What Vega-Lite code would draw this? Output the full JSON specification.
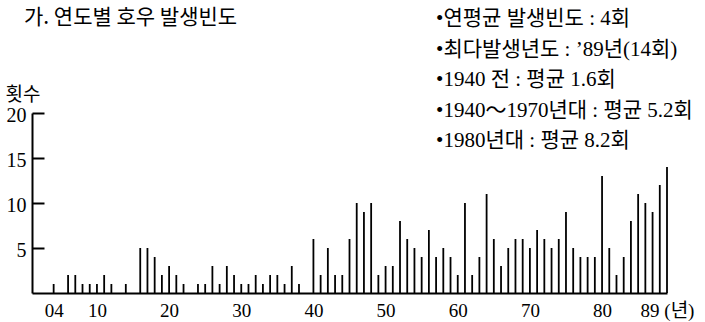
{
  "$schema": "https://vega.github.io/schema/vega-lite/v6.json",
  "width": 635,
  "height": 180,
  "autosize": {"type": "none"},
  "padding": {"left": 32, "top": 113, "right": 38, "bottom": 29},
  "background": "white",
  "title": {
    "text": "가. 연도별 호우 발생빈도",
    "anchor": "start",
    "frame": "group",
    "orient": "top",
    "offset": -37,
    "dx": -8,
    "baseline": "alphabetic",
    "font": "Noto Sans CJK KR",
    "fontSize": 21,
    "fontWeight": "normal",
    "color": "black"
  },
  "datasets": {
    "counts": [
      {"year": 1904, "count": 1}, {"year": 1906, "count": 2}, {"year": 1907, "count": 2},
      {"year": 1908, "count": 1}, {"year": 1909, "count": 1}, {"year": 1910, "count": 1},
      {"year": 1911, "count": 2}, {"year": 1912, "count": 1}, {"year": 1914, "count": 1},
      {"year": 1916, "count": 5}, {"year": 1917, "count": 5}, {"year": 1918, "count": 4},
      {"year": 1919, "count": 2}, {"year": 1920, "count": 3}, {"year": 1921, "count": 2},
      {"year": 1922, "count": 1}, {"year": 1924, "count": 1}, {"year": 1925, "count": 1},
      {"year": 1926, "count": 3}, {"year": 1927, "count": 1}, {"year": 1928, "count": 3},
      {"year": 1929, "count": 2}, {"year": 1930, "count": 1}, {"year": 1931, "count": 1},
      {"year": 1932, "count": 2}, {"year": 1933, "count": 1}, {"year": 1934, "count": 2},
      {"year": 1935, "count": 2}, {"year": 1936, "count": 1}, {"year": 1937, "count": 3},
      {"year": 1938, "count": 1}, {"year": 1940, "count": 6}, {"year": 1941, "count": 2},
      {"year": 1942, "count": 5}, {"year": 1943, "count": 2}, {"year": 1944, "count": 2},
      {"year": 1945, "count": 6}, {"year": 1946, "count": 10}, {"year": 1947, "count": 9},
      {"year": 1948, "count": 10}, {"year": 1949, "count": 2}, {"year": 1950, "count": 3},
      {"year": 1951, "count": 3}, {"year": 1952, "count": 8}, {"year": 1953, "count": 6},
      {"year": 1954, "count": 5}, {"year": 1955, "count": 4}, {"year": 1956, "count": 7},
      {"year": 1957, "count": 4}, {"year": 1958, "count": 5}, {"year": 1959, "count": 4},
      {"year": 1960, "count": 2}, {"year": 1961, "count": 10}, {"year": 1962, "count": 2},
      {"year": 1963, "count": 4}, {"year": 1964, "count": 11}, {"year": 1965, "count": 6},
      {"year": 1966, "count": 3}, {"year": 1967, "count": 5}, {"year": 1968, "count": 6},
      {"year": 1969, "count": 6}, {"year": 1970, "count": 5}, {"year": 1971, "count": 7},
      {"year": 1972, "count": 6}, {"year": 1973, "count": 5}, {"year": 1974, "count": 6},
      {"year": 1975, "count": 9}, {"year": 1976, "count": 5}, {"year": 1977, "count": 4},
      {"year": 1978, "count": 4}, {"year": 1979, "count": 4}, {"year": 1980, "count": 13},
      {"year": 1981, "count": 5}, {"year": 1982, "count": 2}, {"year": 1983, "count": 4},
      {"year": 1984, "count": 8}, {"year": 1985, "count": 11}, {"year": 1986, "count": 10},
      {"year": 1987, "count": 9}, {"year": 1988, "count": 12}, {"year": 1989, "count": 14}
    ],
    "notes": [
      {"note": "•연평균 발생빈도 : 4회"},
      {"note": "•최다발생년도 : ’89년(14회)"},
      {"note": "•1940 전 : 평균 1.6회"},
      {"note": "•1940～1970년대 : 평균 5.2회"},
      {"note": "•1980년대 : 평균 8.2회"}
    ]
  },
  "layer": [
    {
      "data": {"name": "counts"},
      "mark": {"type": "rule", "color": "black", "strokeWidth": 1.8},
      "encoding": {
        "x": {
          "field": "year",
          "type": "quantitative",
          "scale": {"domain": [1901, 1989], "nice": false, "zero": false},
          "axis": {
            "values": [1904, 1910, 1920, 1930, 1940, 1950, 1960, 1970, 1980, 1989],
            "format": "d",
            "labelExpr": "datum.value === 1989 ? '89 (년)' : substring(datum.label, 2, 4)",
            "ticks": false,
            "grid": false,
            "domainColor": "black",
            "domainWidth": 2,
            "labelFont": "Liberation Serif, Noto Sans CJK KR",
            "labelFontSize": 19,
            "labelColor": "black",
            "labelPadding": 8,
            "labelOverlap": false,
            "labelFlush": false,
            "labelBound": false,
            "title": null
          }
        },
        "y": {
          "field": "count",
          "type": "quantitative",
          "scale": {"domain": [0, 20], "nice": false},
          "axis": {
            "values": [5, 10, 15, 20],
            "ticks": true,
            "tickSize": -12,
            "tickWidth": 2,
            "tickColor": "black",
            "domainColor": "black",
            "domainWidth": 2,
            "grid": false,
            "labelFont": "Liberation Serif",
            "labelFontSize": 20,
            "labelColor": "black",
            "labelPadding": 18,
            "labelOffset": 2,
            "title": "횟수",
            "titleAngle": 0,
            "titleX": -27,
            "titleY": -19,
            "titleAlign": "left",
            "titleBaseline": "middle",
            "titleFont": "Noto Sans CJK KR",
            "titleFontSize": 19,
            "titleFontWeight": "normal",
            "titleColor": "black"
          }
        },
        "y2": {"datum": 0}
      }
    },
    {
      "data": {"name": "notes"},
      "mark": {
        "type": "text",
        "align": "left",
        "baseline": "middle",
        "font": "Liberation Serif, Noto Sans CJK KR",
        "fontSize": 21,
        "color": "black"
      },
      "encoding": {
        "x": {"datum": 1957, "type": "quantitative"},
        "y": {
          "field": "note",
          "type": "nominal",
          "sort": null,
          "axis": null,
          "scale": {"type": "point", "range": [-94, 28], "padding": 0}
        },
        "text": {"field": "note"}
      }
    }
  ],
  "resolve": {"scale": {"y": "independent"}},
  "config": {"view": {"stroke": null}}
}
